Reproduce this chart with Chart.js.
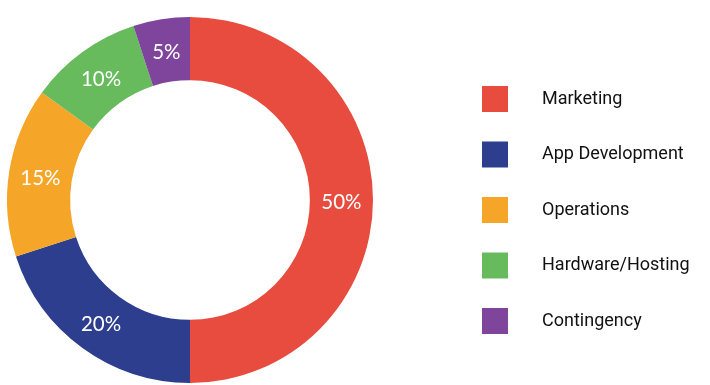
<!DOCTYPE html>
<html>
<head>
<meta charset="utf-8">
<script src="https://cdn.jsdelivr.net/npm/chart.js@4"></script>
<style>
  html, body { margin: 0; padding: 0; background: #fff; }
  #wrap { width: 710px; height: 385px; position: relative; }
</style>
</head>
<body>
<div id="wrap"><canvas id="chart-budget"></canvas></div>
<script>
var categories = ["Marketing", "App Development", "Operations", "Hardware/Hosting", "Contingency"];
var shares = [50, 20, 15, 10, 5];
var colors = ["#E74C3F", "#2D3E8E", "#F5A528", "#67BB5C", "#7F459D"];

// percent text on each slice, in the middle of the ring
var sliceLabels = {
    id: 'sliceLabels',
    afterDatasetsDraw: function(chart) {
        var c = chart.ctx;
        var meta = chart.getDatasetMeta(0);
        c.save();
        c.font = '20.5px Lato, "Open Sans", sans-serif';
        c.fillStyle = '#fff';
        c.textAlign = 'center';
        c.textBaseline = 'middle';
        meta.data.forEach(function(arc, i) {
            var p = arc.tooltipPosition();
            c.fillText(chart.data.datasets[0].data[i] + '%', p.x, p.y + 2);
        });
        c.restore();
    }
};

// legend on the right side
var sideLegend = {
    id: 'sideLegend',
    afterDraw: function(chart) {
        var c = chart.ctx;
        c.save();
        c.font = '18px Roboto, sans-serif';
        c.textBaseline = 'middle';
        chart.data.labels.forEach(function(label, i) {
            var y = 99 + i * 55.5;
            c.fillStyle = chart.data.datasets[0].backgroundColor[i];
            c.fillRect(482, y - 13, 26, 26);
            c.fillStyle = '#111';
            c.fillText(label, 542, y);
        });
        c.restore();
    }
};

var ctx = document.getElementById("chart-budget");
var budgetChart = new Chart(ctx, {
    type: 'doughnut',
    data: {
        labels: categories,
        datasets: [{
            data: shares,
            backgroundColor: colors,
            borderWidth: 0
        }]
    },
    options: {
        responsive: true,
        maintainAspectRatio: false,
        animation: false,
        cutout: '65.5%',
        layout: { padding: { left: 7, right: 337, top: 17, bottom: 2 } },
        plugins: {
            legend: { display: false },
            tooltip: { enabled: false }
        }
    },
    plugins: [sliceLabels, sideLegend]
});
</script>
</body>
</html>
